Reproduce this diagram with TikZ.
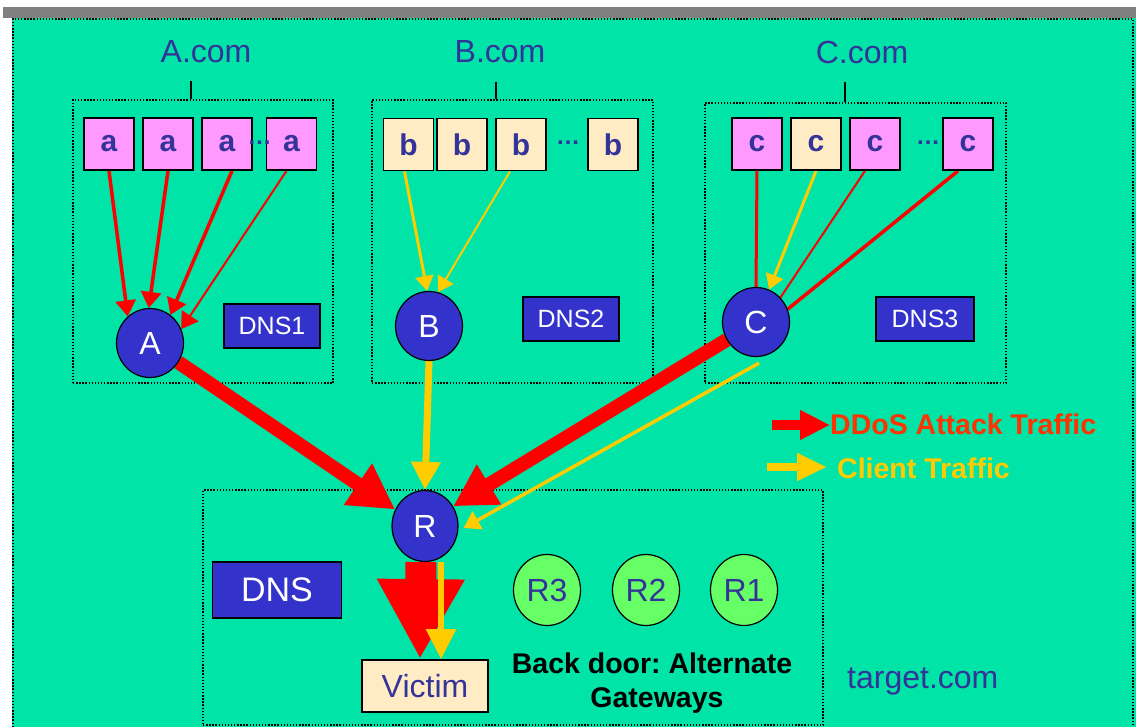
\documentclass[tikz,border=0pt]{standalone}
\usepackage{fontspec}
\setmainfont{Liberation Sans}
\usetikzlibrary{arrows.meta,shapes.geometric,calc}
\frenchspacing

\definecolor{field}{RGB}{0,228,168}
\definecolor{navy}{RGB}{51,51,153}
\definecolor{royal}{RGB}{51,51,204}
\definecolor{pinkbox}{RGB}{255,153,255}
\definecolor{creambox}{RGB}{255,236,196}
\definecolor{mint}{RGB}{102,255,102}
\definecolor{attackred}{RGB}{255,0,0}
\definecolor{clientyel}{RGB}{255,204,0}
\definecolor{legendred}{RGB}{255,51,0}
\definecolor{bargray}{RGB}{128,128,128}

\newcommand\pxfont[1]{\fontsize{#1}{#1}\selectfont}

\pgfdeclarelayer{bg}
\pgfdeclarelayer{edges}
\pgfsetlayers{bg,edges,main}

\tikzset{
  dotframe/.style={draw=black, line width=1.4pt, dash pattern=on 1.4pt off 1.7pt, inner sep=0pt},
  host/.style={draw=black, line width=1.8pt, minimum width=50pt, minimum height=52pt,
    inner sep=0pt, text=navy, font=\pxfont{30}\bfseries},
  attacker/.style={host, fill=pinkbox},
  legit/.style={host, fill=creambox},
  server/.style={ellipse, draw=black, line width=1.2pt, fill=royal, text=white,
    inner sep=0pt, minimum width=67pt, minimum height=69pt, font=\pxfont{32}},
  gateway/.style={server, fill=mint, text=navy, minimum height=71pt},
  dnsbox/.style={draw=black, line width=1.8pt, fill=royal, text=white, inner sep=0pt,
    minimum width=96pt, minimum height=44pt, font=\pxfont{25}},
  sitelabel/.style={text=navy, font=\pxfont{32}, inner sep=0pt},
  ellip/.style={text=navy, font=\pxfont{24}\bfseries, inner sep=0pt},
  tickline/.style={draw=black, line width=1.4pt},
  thinattack/.style={draw=attackred, line width=3.5pt, -{Triangle[length=16pt,width=20pt]}},
  thinlink/.style={draw=attackred, line width=3pt},
  thinclient/.style={draw=clientyel, line width=3pt, -{Triangle[length=15pt,width=18pt]}},
  bigattack/.style={draw=attackred, line width=14pt, -{Triangle[length=45pt,width=47pt]}},
  bigclient/.style={draw=clientyel, line width=7pt, -{Triangle[length=28pt,width=28pt]}},
  legendtext/.style={font=\pxfont{28.5}\bfseries, inner sep=0pt}
}

\begin{document}
\begin{tikzpicture}[x=1pt, y=-1pt]
\useasboundingbox (0,0) rectangle (1136,727);

% page, title bar and slide field
\begin{pgfonlayer}{bg}
  \fill[white] (0,0) rectangle (1136,727);
  \fill[bargray] (3,7) rectangle (1136,18);
  \fill[field] (12,18) rectangle (1136,727);
  \draw[dotframe] (13,727) -- (13,19) -- (1133,19) -- (1133,727);

  % domain frames
  \node[dotframe, minimum width=260pt, minimum height=283pt] (frameA) at (203,241.5) {};
  \node[dotframe, minimum width=281pt, minimum height=283pt] (frameB) at (512.5,241.5) {};
  \node[dotframe, minimum width=301pt, minimum height=280pt] (frameC) at (855.5,243) {};
  \node[dotframe, minimum width=620pt, minimum height=235pt] (frameT) at (513,607.5) {};
\end{pgfonlayer}

% domain labels and their ticks
\node[sitelabel] (Acom) at (206,52) {A.com};
\node[sitelabel] (Bcom) at (500,52) {B.com};
\node[sitelabel] (Ccom) at (862,52) {C.com};
\coordinate (tickA) at (191,81);
\coordinate (tickB) at (496,82);
\coordinate (tickC) at (845,82);
\draw[tickline] (tickA) -- (tickA |- frameA.north);
\draw[tickline] (tickB) -- (tickB |- frameB.north);
\draw[tickline] (tickC) -- (tickC |- frameC.north);

% hosts of A.com
\node[attacker] (a1) at (109,144) {a};
\node[attacker] (a2) at (168,144) {a};
\node[attacker] (a3) at (227,144) {a};
\node[attacker] (a4) at (291.5,144) {a};
\node[ellip] (dotsA) at (259.5,143) {…};

% hosts of B.com
\node[legit] (b1) at (408.5,144.5) {b};
\node[legit] (b2) at (462,144.5) {b};
\node[legit] (b3) at (521,144.5) {b};
\node[legit] (b4) at (613,144.5) {b};
\node[ellip] (dotsB) at (568,143) {…};

% hosts of C.com
\node[attacker] (c1) at (757,144) {c};
\node[legit] (c2) at (816,144) {c};
\node[attacker] (c3) at (875,144) {c};
\node[attacker] (c4) at (968,144) {c};
\node[ellip] (dotsC) at (928,143) {…};

% resolvers and name servers
\node[server] (A) at (150,343) {A};
\node[server] (B) at (429,326) {B};
\node[server] (C) at (756,322) {C};
\node[dnsbox] (dns1) at (272,326) {DNS1};
\node[dnsbox] (dns2) at (571,319) {DNS2};
\node[dnsbox, minimum width=98pt] (dns3) at (925,319) {DNS3};

% target network
\node[server, minimum width=66pt, minimum height=71pt] (R) at (425,526) {R};
\node[gateway] (R3) at (547,590) {R3};
\node[gateway] (R2) at (646,590) {R2};
\node[gateway] (R1) at (744,590) {R1};
\node[dnsbox, minimum width=129pt, minimum height=56pt, font=\pxfont{34}] (dns) at (277,590) {DNS};
\node[draw=black, line width=1.8pt, fill=creambox, text=navy, inner sep=0pt,
  minimum width=126pt, minimum height=52pt, font=\pxfont{32}] (victim) at (425,686) {Victim};
\node[font=\pxfont{28.5}\bfseries, inner sep=0pt, anchor=base] (bd1) at (652,673) {Back door: Alternate};
\node[font=\pxfont{28.5}\bfseries, inner sep=0pt, anchor=base] (bd2) at (657,707) {Gateways};
\node[sitelabel, anchor=base west] (target) at (847,688) {target.com};

% legend
\node[legendtext, text=legendred, anchor=base west] (ddos) at (830,435) {DDoS Attack Traffic};
\node[legendtext, text=clientyel, anchor=base west] (client) at (837,478) {Client Traffic};
\coordinate (ddosTail) at (772,425);
\coordinate (clientTail) at (767,467);

\begin{pgfonlayer}{edges}
  % queries into the resolvers
  \draw[thinattack] (a1.south) -- (A.130);
  \draw[thinattack] (a2.south) -- (A.92);
  \draw[thinattack] ([xshift=5pt]a3.south) -- (A.54);
  \draw[thinattack, line width=2pt] ([xshift=-5pt]a4.south) -- (A.24);
  \draw[thinclient] ([xshift=-4pt]b1.south) -- (B.93);
  \draw[thinclient, line width=2pt] ([xshift=-11pt]b3.south) -- (B.75);
  \draw[thinlink] (c1.south) -- (C.north);
  \draw[thinclient] (c2.south) -- (C.68);
  \draw[thinlink, line width=2pt] ([xshift=-10pt]c3.south) -- (C.45);
  \draw[thinlink, line width=3.5pt] ([xshift=-10pt]c4.south) -- (C.22);

  % resolvers towards the gateway
  \draw[bigattack] (A) -- (R.151);
  \draw[bigclient] (B.south) -- (R.north);
  \draw[bigattack, -{Triangle[length=42pt,width=44pt]}] (C) -- (R.35);
  \draw[thinclient, line width=3.5pt, -{Triangle[length=16pt,width=20pt]}]
    ([xshift=3pt,yshift=-6pt]C.south) -- ([xshift=5pt,yshift=-2pt]R.east);

  % gateway to victim
  \draw[draw=attackred, line width=31pt, -{Triangle[length=80pt,width=82pt]}]
    ([xshift=-4pt]R.south) -- ([xshift=-5pt]victim.north);
  \draw[draw=clientyel, line width=6pt, -{Triangle[length=30pt,width=29pt]}]
    ([xshift=16pt]R.south) -- ([xshift=16pt]victim.north);

  % legend arrows
  \draw[draw=attackred, line width=10pt, -{Triangle[length=30pt,width=28pt]}]
    (ddosTail) -- (ddosTail -| ddos.west);
  \draw[draw=clientyel, line width=8pt, -{Triangle[length=30pt,width=26pt]}]
    (clientTail) -- ([xshift=-10pt]clientTail -| client.west);
\end{pgfonlayer}
\end{tikzpicture}
\end{document}
